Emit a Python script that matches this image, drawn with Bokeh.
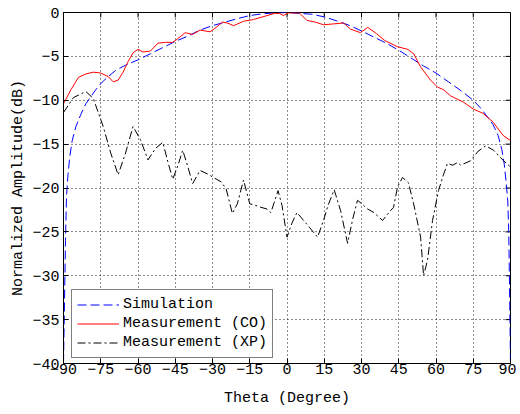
from bokeh.plotting import figure
from bokeh.models import Range1d, FixedTicker, Legend, LegendItem, CustomJSTickFormatter
from bokeh.embed import file_html
from bokeh.resources import INLINE

# ---------------- data ----------------
theta_sim = [-90, -89.6, -89.2, -88.8, -88.2, -87.5, -86.5, -85, -83, -81, -79, -77, -75, -72,
             -69, -65, -60, -55, -50, -45, -40, -35, -30, -25, -20, -15, -10, -5, 0, 5, 10, 15,
             20, 25, 30, 35, 40, 45, 50, 55, 60, 65, 70, 75, 78, 81, 83, 85, 86.5, 87.5, 88.3,
             88.9, 89.3, 89.6, 90]
sim_db = [-40, -33, -26, -21, -18.5, -16.5, -14.6, -13.0, -11.6, -10.4, -9.6, -8.8, -8.1, -7.3,
          -6.6, -6.0, -5.4, -4.7, -4.0, -3.3, -2.7, -2.0, -1.5, -1.1, -0.7, -0.35, -0.15, -0.05,
          0.0, -0.1, -0.2, -0.5, -0.95, -1.45, -2.1, -2.8, -3.5, -4.3, -5.2, -6.1, -6.9, -7.9,
          -8.9, -10.0, -10.9, -12.0, -12.8, -14.0, -15.6, -17.3, -19.5, -21.5, -25, -31, -40]

theta_co = [-90, -87, -84, -81, -78, -75, -72, -70, -68, -66, -64, -62, -60, -58, -55, -52, -49,
            -46, -44, -41, -38, -35, -31, -29, -26, -24, -21.5, -17.5, -13.5, -8, -5, -3, -1.5,
            0.5, 5, 8, 11.5, 14.7, 18.7, 22.8, 25.6, 29.6, 32.5, 36, 39.4, 44.5, 48.6, 51, 53.8,
            57.8, 60.6, 63, 65.9, 68, 71, 75, 79, 83, 87, 90]
co_db = [-10.4, -8.8, -7.4, -7.0, -6.8, -6.9, -7.3, -7.9, -7.7, -6.8, -5.6, -4.6, -4.2, -4.5,
         -4.4, -3.5, -3.4, -3.4, -3.0, -2.3, -2.5, -2.0, -2.2, -1.8, -1.1, -1.2, -1.5, -1.0, -0.8,
         -0.35, -0.1, -0.1, -0.35, -0.05, -0.05, -0.9, -1.1, -1.4, -1.3, -1.2, -1.9, -2.3, -1.7,
         -2.4, -3.2, -3.9, -4.2, -4.7, -6.2, -7.7, -8.5, -8.8, -9.5, -9.8, -10.2, -11.0, -11.5,
         -12.5, -14.0, -14.6]

theta_xp = [-90, -86, -81, -78, -74, -71, -68, -65, -62, -59, -56, -53, -50, -48, -46, -44, -42,
            -40, -38, -35, -32, -29, -26.5, -24.5, -22, -20, -17.5, -15, -12.5, -10.5, -8, -6.5,
            -3.6, -2, 0, 2, 4, 8.5, 12.3, 14.7, 16.5, 19, 21.6, 24.4, 26.5, 28.4, 30.9, 32.5, 35,
            38.5, 41, 42.9, 44.5, 46.5, 48.9, 51, 53.8, 55, 56.6, 58.6, 61, 63, 64.6, 66.7, 68.7,
            69.9, 73.9, 77, 80, 83.2, 87.2, 90]
xp_db = [-11.4, -9.7, -9.0, -9.8, -13.0, -16.0, -18.5, -16.0, -13.0, -14.5, -16.8, -15.5, -14.8,
         -17.0, -19.0, -17.5, -15.7, -17.5, -19.5, -18.0, -18.4, -18.9, -19.3, -20.1, -22.9, -21.8,
         -19.1, -21.8, -22.0, -22.2, -22.4, -22.8, -20.3, -22.0, -25.6, -24.0, -22.8, -24.3, -25.6,
         -23.7, -22.0, -20.2, -22.6, -26.3, -23.5, -21.4, -22.0, -22.4, -22.8, -23.7, -22.8, -22.2,
         -19.9, -18.8, -19.4, -21.8, -25.6, -30.0, -28.2, -23.7, -20.3, -18.5, -17.2, -17.4, -17.1,
         -17.4, -16.9, -15.8, -15.2, -15.7, -16.9, -17.6]

x_ticks = [-90, -75, -60, -45, -30, -15, 0, 15, 30, 45, 60, 75, 90]
y_ticks = [-40, -35, -30, -25, -20, -15, -10, -5, 0]

series_names = ["Simulation", "Measurement (CO)", "Measurement (XP)"]
x_label = "Theta (Degree)"
y_label = "Normalized Amplitude(dB)"

# ---------------- figure ----------------
FONT = "Liberation Mono"
FS = "15px"
X0, X1 = -90, 90
Y0, Y1 = -40, 0

p = figure(width=516, height=412, x_range=Range1d(X0, X1), y_range=Range1d(Y0, Y1),
           output_backend="svg", toolbar_location=None,
           min_border_left=63, min_border_right=6, min_border_top=12, min_border_bottom=49,
           x_axis_label=x_label, y_axis_label=y_label)
p.outline_line_color = "black"
p.outline_line_width = 1
p.background_fill_color = "white"
p.border_fill_color = "white"

xt = FixedTicker(ticks=x_ticks)
yt = FixedTicker(ticks=y_ticks)
minus_fmt = CustomJSTickFormatter(code="return tick.toString().replace('-', '\u2212');")

for ax, tk in ((p.xaxis[0], xt), (p.yaxis[0], yt)):
    ax.ticker = tk
    ax.formatter = minus_fmt
    ax.major_tick_in = 5
    ax.major_tick_out = 0
    ax.minor_tick_in = 0
    ax.minor_tick_out = 0
    ax.axis_line_color = "black"
    ax.major_tick_line_color = "black"
    ax.major_label_text_font = FONT
    ax.major_label_text_font_size = FS
    ax.major_label_text_color = "black"
    ax.axis_label_text_font = FONT
    ax.axis_label_text_font_size = FS
    ax.axis_label_text_font_style = "normal"
    ax.axis_label_text_color = "black"

p.xaxis[0].major_label_standoff = 0
p.xaxis[0].axis_label_standoff = 13
p.yaxis[0].major_label_standoff = 4
p.yaxis[0].axis_label_standoff = 2

p.xgrid.ticker = xt
p.ygrid.ticker = yt
for g in (p.xgrid[0], p.ygrid[0]):
    g.grid_line_color = "black"
    g.grid_line_dash = "1 3"
    g.grid_line_width = 1
    g.grid_line_alpha = 0.9

# inward tick marks on the top and right edges of the box (MATLAB "box on")
tick_dy = 0.57   # ~5 px in dB
tick_dx = 2.0    # ~5 px in degrees
p.segment(x0=x_ticks, y0=[Y1] * len(x_ticks), x1=x_ticks, y1=[Y1 - tick_dy] * len(x_ticks),
          line_color="black", line_width=1)
p.segment(x0=[X1] * len(y_ticks), y0=y_ticks, x1=[X1 - tick_dx] * len(y_ticks), y1=y_ticks,
          line_color="black", line_width=1)

r1 = p.line(theta_sim, sim_db, line_color="#0000ff", line_dash="9 4", line_width=1)
r2 = p.line(theta_co, co_db, line_color="#ff0000", line_width=1)
r3 = p.line(theta_xp, xp_db, line_color="black", line_dash="8 3 2 3", line_width=1)

legend = Legend(items=[LegendItem(label=series_names[0], renderers=[r1], index=0),
                       LegendItem(label=series_names[1], renderers=[r2], index=0),
                       LegendItem(label=series_names[2], renderers=[r3], index=0)],
                location=(8, 5), orientation="vertical",
                glyph_width=42, glyph_height=19, label_height=19, label_standoff=4,
                padding=5, spacing=0, margin=0,
                label_text_font=FONT, label_text_font_size="15px", label_text_color="black",
                border_line_color="black", border_line_width=1,
                background_fill_color="white", background_fill_alpha=1)
p.add_layout(legend)

open("out.html", "w").write(file_html(p, INLINE))
